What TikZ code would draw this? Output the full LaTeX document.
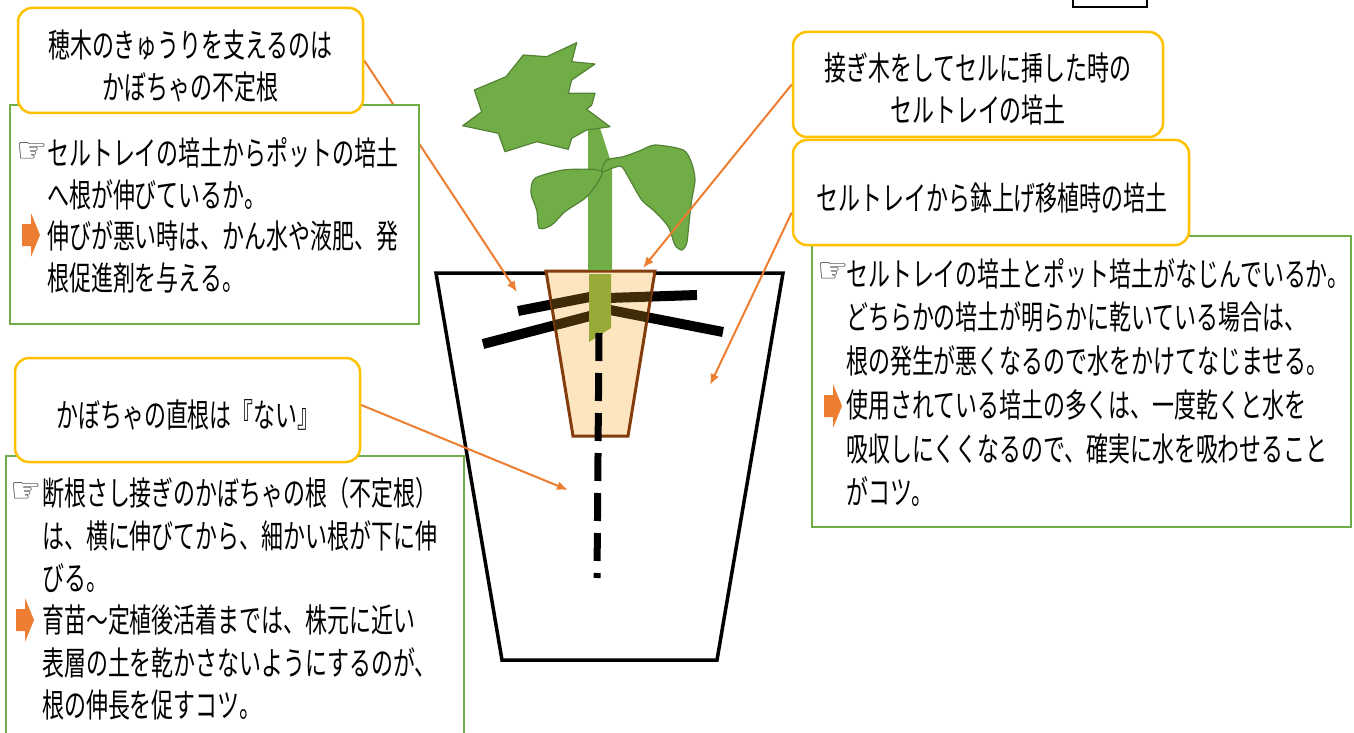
\documentclass[tikz,border=0pt]{standalone}
\usepackage{fontspec}
\setmainfont{Noto Sans CJK JP}[FakeStretch=0.665]
\newfontfamily\handfont{DejaVu Sans}
\usetikzlibrary{arrows.meta,backgrounds}

\definecolor{callgold}{RGB}{255,192,0}
\definecolor{memogreen}{RGB}{112,173,71}
\definecolor{leafgreen}{RGB}{112,173,71}
\definecolor{leafedge}{RGB}{84,130,53}
\definecolor{stemolive}{RGB}{153,170,56}
\definecolor{pointorange}{RGB}{237,125,49}
\definecolor{plugfill}{RGB}{253,229,192}
\definecolor{plugedge}{RGB}{132,60,12}
\definecolor{rootbrown}{RGB}{64,43,8}

\begin{document}
\begin{tikzpicture}[x=1pt,y=-1pt,
    callout/.style={draw=callgold,line width=2.5pt,rounded corners=14pt,fill=white,
      minimum height=105pt},
    calltext/.style={align=center,inner sep=0pt,font=\fontsize{33}{42}\selectfont},
    memo/.style={draw=memogreen,line width=2pt,fill=white,anchor=north west},
    memotext/.style={align=left,inner sep=0pt,anchor=west},
    pointer/.style={-{Latex[length=11pt,width=9pt]},draw=pointorange,line width=2pt},
    hand/.style={font=\handfont\fontsize{35}{35}\selectfont,inner sep=0pt,text=black!75},
    root/.style={line width=10pt},
    leaf/.style={fill=leafgreen,draw=leafedge,line width=1.2pt,line join=round},
    yaji/.pic={\fill[pointorange] (-9,-11) -- (0,-11) -- (0,-22) -- (9,0) -- (0,22) -- (0,11) -- (-9,11) -- cycle;}
  ]
  \useasboundingbox (0,0) rectangle (1354,733);

  % memo boxes
  \node[memo,minimum width=409pt,minimum height=219pt] (memoA) at (9,104) {};
  \node[memotext,font=\fontsize{33}{41.7}\selectfont] (memoAtxt) at (47,215.5)
    {セルトレイの培土からポットの培土\\へ根が伸びているか。\\伸びが悪い時は、かん水や液肥、発\\根促進剤を与える。};
  \node[hand] (handA) at (32,153) {☞};
  \pic at (31,235) {yaji};

  \node[memo,minimum width=539pt,minimum height=291pt] (memoF) at (811,235) {};
  \node[memotext,font=\fontsize{33}{43.7}\selectfont] (memoFtxt) at (846,382.5)
    {セルトレイの培土とポット培土がなじんでいるか。\\どちらかの培土が明らかに乾いている場合は、\\根の発生が悪くなるので水をかけてなじませる。\\使用されている培土の多くは、一度乾くと水を\\吸収しにくくなるので、確実に水を吸わせること\\がコツ。};
  \node[hand] (handF) at (833,273) {☞};
  \pic at (833,406) {yaji};

  \node[memo,minimum width=458pt,minimum height=290pt] (memoE) at (5,455) {};
  \node[memotext,font=\fontsize{33}{42.4}\selectfont] (memoEtxt) at (42,599)
    {断根さし接ぎのかぼちゃの根（不定根）\\は、横に伸びてから、細かい根が下に伸\\びる。\\育苗～定植後活着までは、株元に近い\\表層の土を乾かさないようにするのが、\\根の伸長を促すコツ。};
  \node[hand] (handE) at (26,493) {☞};
  \pic at (25,620) {yaji};

  % callouts
  \node[callout,minimum width=345pt] (callA) at (190.5,60.5) {};
  \node[calltext] (callAtxt) at (190.5,66) {穂木のきゅうりを支えるのは\\かぼちゃの不定根};
  \node[callout,minimum width=370pt] (callB) at (978,84.5) {};
  \node[calltext] (callBtxt) at (978,89) {接ぎ木をしてセルに挿した時の\\セルトレイの培土};
  \node[callout,minimum width=396pt] (callC) at (991,192.5) {};
  \node[calltext] (callCtxt) at (992,198) {セルトレイから鉢上げ移植時の培土};
  \node[callout,minimum width=345pt,minimum height=104pt] (callD) at (187.5,410) {};
  \node[calltext] (callDtxt) at (188,415) {かぼちゃの直根は『ない』};

  \draw[line width=2.5pt] (1073,0) -- (1073,7) -- (1147,7) -- (1147,0);

  \begin{scope}[on background layer]
    % pot
    \draw[line width=3.5pt,fill=white] (436,273) -- (783,273) -- (717,660) -- (502,660) -- cycle;
    % side roots
    \foreach \xa/\ya/\xb/\yb in {518/311/600/295, 483/344/590/316, 608/298/697/295, 610/310/723/332}
      \draw[root] (\xa,\ya) -- (\xb,\yb);
    % cell plug
    \draw[fill=plugfill,draw=plugedge,line width=3pt] (546,271) -- (655,271) -- (628,436) -- (573,436) -- cycle;
    \begin{scope}
      \clip (546,271) -- (655,271) -- (628,436) -- (573,436) -- cycle;
      \foreach \xa/\ya/\xb/\yb in {518/311/600/295, 483/344/590/316, 608/298/697/295, 610/310/723/332}
        \draw[root,rootbrown] (\xa,\ya) -- (\xb,\yb);
    \end{scope}
    % stem
    \fill[leafgreen] (588,270) -- (612,270) -- (612,165) -- (600,128) -- (588,128) -- cycle;
    \fill[stemolive] (589,274) -- (611,274) -- (611,328) -- (589,342) -- cycle;
    \draw[line width=7pt,dash pattern=on 28pt off 12pt] (599,333) -- (597,578);
    % cotyledons
    \draw[leaf] plot[smooth cycle,tension=0.45] coordinates {(601.7,171.7) (593,169.3) (563.3,170) (535,178.3)
      (531,193.3) (536.7,210) (539.3,228.3) (551.7,225) (565,211.7) (585,198.3) (595,186.7) (601.7,175)};
    \draw[leaf] plot[smooth cycle,tension=0.45] coordinates {(601.7,171.7) (606.7,160) (623.3,156.7) (640,150.7)
      (655,145) (683.3,150) (691.7,163.3) (695,180) (691.7,200) (689.3,220) (686.7,243.3) (681.7,250)
      (675,245) (668.3,226.7) (655,211.7) (641.7,200) (630,180) (621.7,166.7) (611.7,168.3)};
    % true leaf
    \draw[leaf] (462.7,125.7) -- (481.7,111.7) -- (474.3,90) -- (506,76.7) -- (523.3,55) -- (546.7,56.7)
      -- (576.7,42.7) -- (571.7,61.7) -- (595,64) -- (571.7,80) -- (568.3,93.3) -- (595,93.3) -- (591.7,105)
      -- (586.7,109.3) -- (610,126.7) -- (586.7,130) -- (571.7,138.3) -- (568.3,149.3) -- (536.7,141.7)
      -- (505,151.7) -- (498.3,133.3) -- cycle;

    % pointers
    \coordinate (adroot) at (517,292);
    \coordinate (plugsoil) at (643,268);
    \coordinate (potsoil) at (710,385);
    \coordinate (notap) at (568,490);
    \draw[pointer] (callA.east) -- (adroot);
    \draw[pointer] (callB.west) -- (plugsoil);
    \draw[pointer] ([yshift=-20pt]callC.west) -- (potsoil);
    \draw[pointer] ([yshift=5pt]callD.east) -- (notap);
  \end{scope}
\end{tikzpicture}
\end{document}
